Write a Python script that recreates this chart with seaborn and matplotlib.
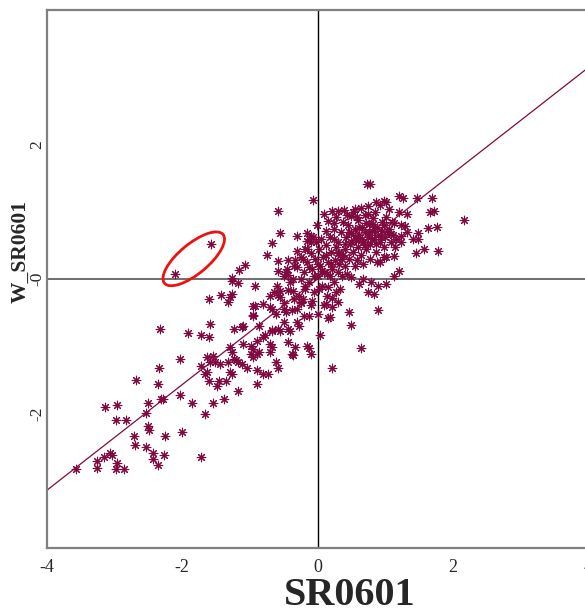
import matplotlib
matplotlib.use("Agg")
import matplotlib.pyplot as plt
from matplotlib.patches import Ellipse
import seaborn as sns
import pandas as pd

# ---- data ----
x_tail = [-3.57, -3.26, -3.26, -3.16, -3.07, -3.04, -2.96, -2.98, -2.86, -3.14, -2.96, -2.98, -2.83,
          -2.68, -2.53, -2.50, -2.50, -2.49, -2.36, -2.34, -2.31, -2.28, -2.71, -2.70, -2.53, -2.43,
          -2.43, -2.36, -2.27, -2.25, -2.00, -2.04, -2.04, -1.91, -1.73, -1.60, -2.33, -1.85, -1.67,
          -1.72, -1.54, -1.39, -1.27, -1.45, -1.36, -1.48, -1.61, -1.64, -1.73, -1.64, -1.54, -1.51,
          -1.59, -1.26, -1.24, -1.17, -1.17]
y_tail = [-2.83, -2.71, -2.81, -2.64, -2.58, -2.61, -2.73, -2.83, -2.83, -1.90, -1.88, -2.10, -2.10,
          -1.50, -1.99, -1.84, -2.18, -2.24, -1.56, -1.33, -1.79, -1.78, -2.33, -2.47, -2.50, -2.58,
          -2.68, -2.77, -2.62, -2.34, -2.28, -1.73, -1.19, -0.81, -0.84, -0.86, -0.74, -1.85, -2.01,
          -2.64, -1.84, -1.79, -1.41, -1.51, -1.51, -1.59, -1.51, -1.39, -1.29, -1.16, -1.14, -1.23,
          -1.23, -1.08, -1.19, -1.23, -1.67]

x_mid = [-1.27, -1.17, -0.92, -1.42, -1.27, -1.61, -1.32, -0.93, -0.95, -0.87, -1.59, -1.11, -1.44,
         -1.32, -1.29, -1.66, -1.21, -1.11, -1.10, -0.99, -0.95, -0.89, -0.99, -0.96, -1.04, -0.90,
         -0.89, -0.67, -0.74, -1.07, -1.16, -0.59, -0.43, -0.33, -0.25, -0.30, -0.15, -0.10, -0.59,
         -0.47, -0.44, -0.36, -1.26, -0.65, -0.59, -0.56, -0.44, -0.36, -0.55, -0.27, -0.21, -0.18,
         -0.81, -0.70, -0.67, -0.50, -0.37, -0.13, 0.01, 0.16, -0.50, -0.30, -0.28, -0.43, -0.40,
         -0.59, -0.67, -0.55, -1.10, -1.24, -0.77, -0.70, -0.67, -0.44, -0.15, 0.03, -0.33, -1.29,
         -0.87, -0.70, -0.37, -0.10, -1.29]
y_mid = [-0.03, -0.06, -0.10, -0.24, -0.22, -0.30, -0.34, -0.40, -0.53, -0.70, -0.67, -0.71, -1.26,
         -1.23, -1.39, -1.41, -1.21, -1.26, -0.96, -0.99, -1.04, -0.92, -1.11, -1.16, -1.33, -1.36,
         -1.11, 0.53, 0.36, 0.21, 0.13, 0.27, 0.28, 0.28, 0.33, 0.41, 0.44, 0.55, 0.12, 0.10, 0.06,
         0.00, 0.01, -0.19, -0.24, -0.18, -0.16, -0.18, -0.27, -0.25, -0.30, -0.10, -0.37, -0.41,
         -0.44, -0.44, -0.46, -0.55, -0.52, -0.58, -0.64, -0.64, -0.70, -0.74, -0.77, -0.74, -0.77,
         -0.77, -0.70, -0.74, -0.84, -0.96, -1.01, -0.93, -0.99, -0.84, -1.01, -1.01, -1.08, -1.08,
         -1.11, -1.11, -0.27]

x_low = [0.18, 0.46, 0.89, 0.50, 0.65, 0.22, -0.13, -0.36, -0.61, -0.58, -0.73, -0.81, -0.89, -0.80,
         -0.68, -0.95, -0.95, -0.62, -0.47, -0.25, -0.10, 0.12, 0.22, 0.31]
y_low = [-0.56, -0.49, -0.46, -0.68, -1.02, -1.32, -1.02, -1.13, -1.23, -1.32, -1.41, -1.41, -1.56,
         -0.86, -0.76, -0.55, -0.40, -0.52, -0.49, -0.34, -0.39, -0.37, -0.41, -0.34]

x_right = [1.26, 1.20, 1.47, 1.70, 1.67, 1.72, 2.16, 1.64, 1.76, 1.48, 1.48, 1.41, 1.57, 1.78, 1.45,
           1.33, 1.23, 1.23, 1.33, 1.20, 0.98, 1.20, 1.13, 0.98, 1.01, 1.05, 1.13, 1.23, 1.30, 1.08,
           1.16, 0.73, 0.77, -0.06, 0.87, 0.56, 0.09, 0.22, 0.30, 0.39, 0.49, -0.01, -0.15, -0.13,
           0.16, 0.24, 0.12, -0.19, -0.22, 1.01, 0.49, 0.67, 0.79, 0.89, 0.61, 0.74, 0.83, 0.93, 1.01,
           1.13, -0.59, -0.55, -0.31, -0.10, -0.06, -0.15, -2.10, -1.58]
y_right = [1.21, 1.23, 1.20, 1.21, 0.99, 1.01, 0.87, 0.76, 0.77, 0.68, 0.59, 0.59, 0.44, 0.41, 0.39,
           0.70, 0.64, 0.55, 0.96, 0.99, 0.33, 0.12, 0.04, 1.16, 1.14, 1.04, 0.84, 0.81, 0.79, 0.67,
           0.59, 1.42, 1.42, 1.17, 1.14, 1.04, 0.96, 1.01, 1.01, 1.02, 0.93, 0.80, 0.68, 0.59, 0.86,
           0.84, 0.71, 0.44, 0.30, -0.07, 0.03, 0.00, -0.04, -0.10, -0.07, -0.19, -0.22, 0.25, 0.33,
           0.34, 1.01, 0.68, 0.64, 0.64, 0.62, 0.56, 0.07, 0.52]

x_core = [0.30, 0.35, 0.40, 0.42, 0.45, 0.48, 0.50, 0.52, 0.55, 0.57, 0.60, 0.60, 0.62, 0.64, 0.66,
          0.68, 0.70, 0.70, 0.72, 0.74, 0.76, 0.78, 0.80, 0.82, 0.84, 0.86, 0.88, 0.90, 0.92, 0.95,
          0.96, 0.98, 1.00, 1.02, 1.05, 1.08, 1.10, 0.38, 0.44, 0.52, 0.58, 0.65, 0.75, 0.85, 0.92,
          0.32, 0.46, 0.55, 0.68, 0.78, 0.88, 1.12, 1.15, 0.25, 0.28, 0.36, 0.62, 0.72, 0.80, 0.66,
          0.56, 0.50, 0.76, 0.84, 0.94, 1.04, 0.70, 0.60, 0.46, 0.86, 0.98, 0.74, 0.82, 0.58, 0.40]
y_core = [0.55, 0.70, 0.45, 0.62, 0.80, 0.52, 0.68, 0.40, 0.75, 0.58, 0.88, 0.48, 0.66, 0.35, 0.78,
          0.55, 0.95, 0.70, 0.44, 0.62, 0.82, 0.52, 0.72, 0.90, 0.60, 0.40, 0.78, 0.66, 0.55, 0.85,
          0.72, 0.48, 0.62, 0.92, 0.75, 0.55, 0.85, 0.85, 0.95, 1.00, 0.28, 1.05, 1.08, 1.00, 1.10,
          0.38, 0.30, 0.20, 0.22, 0.30, 0.25, 0.65, 0.48, 0.75, 0.92, 0.30, 0.76, 0.84, 0.60, 0.60,
          0.64, 0.55, 0.70, 0.74, 0.62, 0.70, 0.50, 0.58, 0.70, 0.52, 0.80, 0.96, 0.82, 0.92, 0.52]

x_origin = [-0.20, -0.15, -0.12, -0.10, -0.08, -0.05, -0.03, 0.00, 0.02, 0.04, 0.06, 0.08, 0.10, 0.12,
            0.14, 0.15, 0.18, 0.20, 0.22, 0.24, 0.26, 0.28, 0.30, 0.32, 0.34, 0.36, 0.05, -0.02, 0.18,
            -0.18, -0.25, -0.08, 0.10, 0.22, 0.40, 0.44, -0.30, 0.00, 0.12, 0.25, -0.05, 0.16, 0.28,
            0.38, 0.06, 0.20, -0.12, 0.02, 0.30, 0.14, -0.40, -0.35, -0.45, -0.30, -0.50, -0.60, -0.20,
            -0.35, -0.50, -0.25, -0.70]
y_origin = [0.10, 0.25, -0.05, 0.38, 0.15, -0.20, 0.30, 0.05, 0.45, 0.20, -0.10, 0.32, 0.10, 0.50,
            -0.25, 0.25, 0.05, 0.40, 0.15, -0.05, 0.28, 0.48, 0.10, 0.22, -0.15, 0.05, 0.60, 0.55, 0.62,
            -0.15, 0.00, -0.32, -0.38, -0.28, 0.20, 0.08, 0.18, 0.22, 0.35, 0.60, 0.05, -0.12, -0.20,
            0.35, 0.12, 0.22, 0.18, -0.15, 0.38, 0.08, -0.05, -0.30, 0.15, -0.45, -0.35, -0.10, -0.55,
            0.20, 0.05, -0.35, -0.25]

slope = 0.785          # Moran's I (regression slope)
intercept = 0.0
x_ticks = [-4, -2, 0, 2, 4]
x_tick_labels = ["-4", "-2", "0", "2", "4"]
y_ticks = [-2, 0, 2]
y_tick_labels = ["-2", "-0", "2"]
x_label = "SR0601"
y_label = "W_SR0601"

# outlier ellipse (data units)
ell_center = (-1.83, 0.30)
ell_w, ell_h, ell_angle = 1.13, 0.44, 40

df = pd.DataFrame({
    "x": x_tail + x_mid + x_low + x_right + x_core + x_origin,
    "y": y_tail + y_mid + y_low + y_right + y_core + y_origin,
})

sns.set_style("white")
plt.rcParams["font.family"] = ["Liberation Serif", "DejaVu Serif"]
plt.rcParams["axes.unicode_minus"] = False

W, H = 585, 615
fig = plt.figure(figsize=(W / 100, H / 100), dpi=100)
ax = fig.add_axes([47 / W, 67 / H, 541 / W, 538 / H])

point_color = "#800a40"
sns.scatterplot(data=df, x="x", y="y", ax=ax, marker=(8, 2, 0), s=38,
                color=point_color, edgecolor=point_color, linewidth=0.8, zorder=3)

ax.axline((0, intercept), slope=slope, color=point_color, lw=0.9, zorder=2)
ax.axvline(0, color="black", lw=1.0, zorder=1)
ax.axhline(0, color="#555555", lw=1.2, zorder=1)

ax.add_patch(Ellipse(ell_center, ell_w, ell_h, angle=ell_angle, fill=False,
                     edgecolor="#ee1111", lw=2.0, zorder=4))

ax.set_xlim(-4, 4)
ax.set_ylim(-4, 4)
ax.set_xticks(x_ticks)
ax.set_xticklabels(x_tick_labels, fontsize=13)
ax.set_yticks(y_ticks)
ax.set_yticklabels(y_tick_labels, fontsize=12.5, rotation=90, va="center")
ax.tick_params(axis="both", direction="out", length=4, width=1, color="#777777", pad=4)
ax.tick_params(axis="y", pad=-3)
ax.set_xlabel("")
ax.set_ylabel("")
for side in ["left", "bottom", "top", "right"]:
    ax.spines[side].set_color("#808080")
    ax.spines[side].set_linewidth(1.6)

fig.text(350 / W, 1 / H, x_label, fontsize=29, fontweight="bold", ha="center", va="bottom")
fig.text(21 / W, 1 - 251 / H, y_label, fontsize=15.5, fontweight="bold", rotation=90,
         ha="center", va="center")

fig.savefig("out.png", dpi=100)
